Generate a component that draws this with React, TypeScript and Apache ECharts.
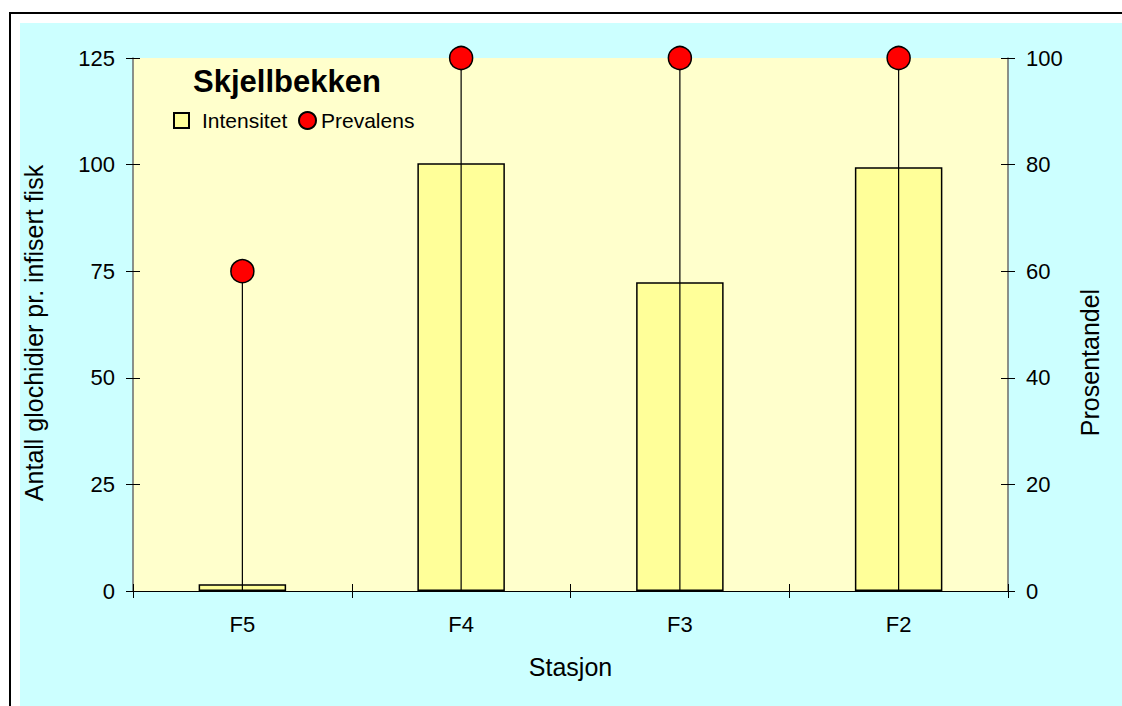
import React, { useEffect, useRef } from 'react';
import * as echarts from 'echarts';

const stations = ['F5', 'F4', 'F3', 'F2'];
const intensitet = [1.6, 100.3, 72.4, 99.4];
const prevalens = [60, 100, 100, 100];
const leftAxis = { min: 0, max: 125, interval: 25 };
const rightAxis = { min: 0, max: 100, interval: 20 };
const titleText = 'Skjellbekken';
const yLeftName = 'Antall glochidier pr. infisert fisk';
const yRightName = 'Prosentandel';
const xName = 'Stasjon';

const FONT = '"Liberation Sans", Arial, sans-serif';

export default function App() {
  const ref = useRef<HTMLDivElement>(null);
  useEffect(() => {
    if (!ref.current) return;
    const chart = echarts.init(ref.current, undefined, { renderer: 'svg' });
    const tickLabel = { color: '#000', fontSize: 22, fontFamily: FONT };
    const nameStyle = { color: '#000', fontSize: 25, fontFamily: FONT };
    chart.setOption({
      animation: false,
      backgroundColor: 'transparent',
      textStyle: { fontFamily: FONT, color: '#000' },
      title: {
        text: titleText,
        left: 193,
        top: 66,
        padding: 0,
        textStyle: { fontSize: 31, fontWeight: 'bold', color: '#000', fontFamily: FONT },
      },
      legend: [
        {
          data: [{ name: 'Intensitet', icon: 'rect' }],
          left: 173,
          top: 110,
          padding: 0,
          itemWidth: 15,
          itemHeight: 15,
          textStyle: { fontSize: 21, color: '#000', fontFamily: FONT, padding: [0, 0, 0, 8] },
        },
        {
          data: [{ name: 'Prevalens', icon: 'circle' }],
          left: 298,
          top: 110,
          padding: 0,
          itemWidth: 17,
          itemHeight: 17,
          textStyle: { fontSize: 21, color: '#000', fontFamily: FONT },
        },
      ],
      grid: {
        left: 133,
        right: 114,
        top: 58,
        bottom: 115,
        show: true,
        backgroundColor: '#FFFFCC',
        borderWidth: 0,
      },
      xAxis: [
        {
          type: 'category',
          data: stations,
          position: 'bottom',
          name: xName,
          nameLocation: 'middle',
          nameGap: 63,
          nameTextStyle: nameStyle,
          axisLine: { show: true, lineStyle: { color: '#000', width: 1 } },
          axisTick: { show: true, inside: false, length: 7, interval: 0, lineStyle: { color: '#000', width: 1 } },
          axisLabel: { ...tickLabel, margin: 22, interval: 0 },
          splitLine: { show: false },
        },
        {
          type: 'category',
          data: stations,
          position: 'bottom',
          axisLine: { show: false },
          axisTick: { show: true, inside: true, length: 7, interval: 0, lineStyle: { color: '#000', width: 1 } },
          axisLabel: { show: false },
          splitLine: { show: false },
        },
      ],
      yAxis: [
        {
          type: 'value',
          position: 'left',
          ...leftAxis,
          name: yLeftName,
          nameLocation: 'middle',
          nameGap: 87,
          nameRotate: 90,
          nameTextStyle: { ...nameStyle, padding: [0, 17, 0, 0] },
          axisLine: { show: true, lineStyle: { color: '#6b6b6b', width: 1.5 } },
          axisTick: { show: true, inside: false, length: 7, lineStyle: { color: '#000', width: 1 } },
          axisLabel: { ...tickLabel, margin: 18 },
          splitLine: { show: false },
        },
        {
          type: 'value',
          position: 'right',
          ...rightAxis,
          name: yRightName,
          nameLocation: 'middle',
          nameGap: 69,
          nameRotate: 90,
          nameTextStyle: { ...nameStyle, padding: [0, 76, 0, 0] },
          axisLine: { show: true, lineStyle: { color: '#6b6b6b', width: 1.5 } },
          axisTick: { show: true, inside: false, length: 7, lineStyle: { color: '#000', width: 1 } },
          axisLabel: { ...tickLabel, margin: 18 },
          splitLine: { show: false },
        },
        {
          type: 'value',
          position: 'left',
          ...leftAxis,
          axisLine: { show: false },
          axisTick: { show: true, inside: true, length: 7, lineStyle: { color: '#000', width: 1 } },
          axisLabel: { show: false },
          splitLine: { show: false },
        },
        {
          type: 'value',
          position: 'right',
          ...rightAxis,
          axisLine: { show: false },
          axisTick: { show: true, inside: true, length: 7, lineStyle: { color: '#000', width: 1 } },
          axisLabel: { show: false },
          splitLine: { show: false },
        },
      ],
      series: [
        {
          name: 'Intensitet',
          type: 'bar',
          xAxisIndex: 0,
          yAxisIndex: 0,
          data: intensitet,
          barWidth: '40%',
          itemStyle: { color: '#FFFF99', borderColor: '#000', borderWidth: 1.5 },
          z: 2,
        },
        {
          name: 'Dropline',
          type: 'custom',
          xAxisIndex: 0,
          yAxisIndex: 1,
          data: prevalens.map((v, i) => [i, v]),
          encode: { x: 0, y: 1 },
          z: 3,
          silent: true,
          clip: false,
          renderItem: (params: any, api: any) => {
            const x = api.value(0);
            const p0 = api.coord([x, 0]);
            const p1 = api.coord([x, api.value(1)]);
            return {
              type: 'line',
              shape: { x1: p0[0], y1: p0[1], x2: p1[0], y2: p1[1] },
              style: { stroke: '#000', lineWidth: 1.2 },
            };
          },
        },
        {
          name: 'Prevalens',
          type: 'scatter',
          xAxisIndex: 0,
          yAxisIndex: 1,
          data: prevalens,
          symbol: 'circle',
          symbolSize: 23,
          clip: false,
          itemStyle: { color: '#FF0000', borderColor: '#000', borderWidth: 1.5, opacity: 1 },
          z: 4,
        },
      ],
    });
    return () => chart.dispose();
  }, []);

  return (
    <div
      style={{
        position: 'fixed',
        left: 0,
        top: 0,
        width: 1122,
        height: 706,
        overflow: 'hidden',
        background: '#FFFFFF',
      }}
    >
      <div
        style={{
          position: 'absolute',
          left: 9,
          top: 12,
          width: 1300,
          height: 900,
          border: '2px solid #000',
          boxSizing: 'border-box',
        }}
      />
      <div
        style={{
          position: 'absolute',
          left: 20,
          top: 23,
          right: 0,
          bottom: 0,
          background: '#CCFFFF',
        }}
      />
      <div ref={ref} style={{ position: 'absolute', left: 0, top: 0, width: 1122, height: 706 }} />
    </div>
  );
}
